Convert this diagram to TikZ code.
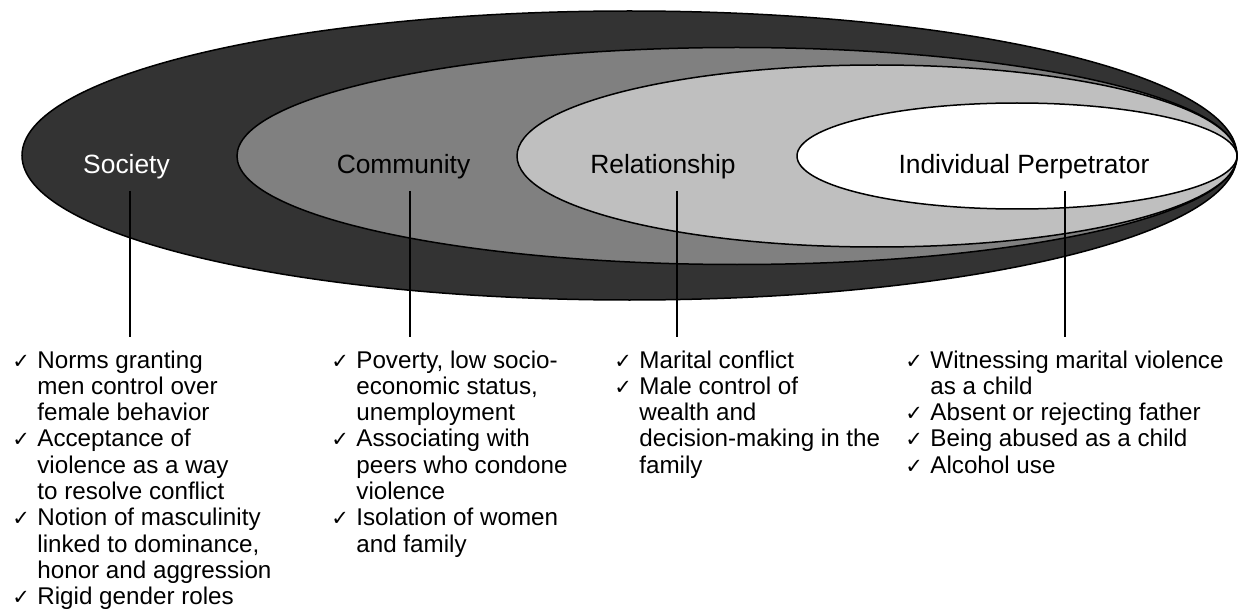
\documentclass[tikz,border=0pt]{standalone}
\usepackage{fontspec}
\setmainfont{Liberation Sans}
\newfontfamily\symfont{DejaVu Sans}
\newcommand\ck{\makebox[12.5pt][l]{\symfont\fontsize{10.5}{10.5}\selectfont ✓}}
\begin{document}
\begin{tikzpicture}[x=0.5pt,y=-0.5pt,
  ring/.style={draw=black,line width=0.75pt},
  lvl/.style={font=\fontsize{13.2}{15}\selectfont,inner sep=0pt,anchor=base},
  risk/.style={font=\fontsize{12.1}{13.15}\selectfont,inner sep=0pt,anchor=base west},
  conn/.style={draw=black,line width=1pt}]
\useasboundingbox (0,0) rectangle (1238,615);
\fill[white] (0,0) rectangle (1238,615);
% nested ellipses
\draw[ring,fill=black!80] (629.5,155.5) ellipse [x radius=303.75pt,y radius=72.25pt];
\draw[ring,fill=black!50] (737,156) ellipse [x radius=250pt,y radius=54.25pt];
\draw[ring,fill=black!25] (877,156) ellipse [x radius=180pt,y radius=45.5pt];
\draw[ring,fill=white] (1017,156) ellipse [x radius=110pt,y radius=26.5pt];
% level labels
\node[lvl,text=white] (soc) at (126.5,174) {Society};
\node[lvl] (com) at (403.5,174) {Community};
\node[lvl] (rel) at (663,174) {Relationship};
\node[lvl] (ind) at (1024,174) {Individual Perpetrator};
% risk factor lists
\node[risk] (socl) at (12,368) {\begin{tabular}[t]{@{}l@{}l@{}}
\ck & Norms granting\\
 & men control over\\
 & female behavior\\
\ck & Acceptance of\\
 & violence as a way\\
 & to resolve conflict\\
\ck & Notion of masculinity\\
 & linked to dominance,\\
 & honor and aggression\\
\ck & Rigid gender roles
\end{tabular}};
\node[risk] (coml) at (331,368) {\begin{tabular}[t]{@{}l@{}l@{}}
\ck & Poverty, low socio-\\
 & economic status,\\
 & unemployment\\
\ck & Associating with\\
 & peers who condone\\
 & violence\\
\ck & Isolation of women\\
 & and family
\end{tabular}};
\node[risk] (rell) at (614,368) {\begin{tabular}[t]{@{}l@{}l@{}}
\ck & Marital conflict\\
\ck & Male control of\\
 & wealth and\\
 & decision-making in the\\
 & family
\end{tabular}};
\node[risk] (indl) at (905,368) {\begin{tabular}[t]{@{}l@{}l@{}}
\ck & Witnessing marital violence\\
 & as a child\\
\ck & Absent or rejecting father\\
\ck & Being abused as a child\\
\ck & Alcohol use
\end{tabular}};
% connectors
\coordinate (s1) at (130,191); \coordinate (s2) at (130,337);
\coordinate (c1) at (410,191); \coordinate (c2) at (410,337);
\coordinate (r1) at (677,191); \coordinate (r2) at (677,337);
\coordinate (i1) at (1065,191); \coordinate (i2) at (1065,337);
\draw[conn] (s1) -- (s2);
\draw[conn] (c1) -- (c2);
\draw[conn] (r1) -- (r2);
\draw[conn] (i1) -- (i2);
\end{tikzpicture}
\end{document}
